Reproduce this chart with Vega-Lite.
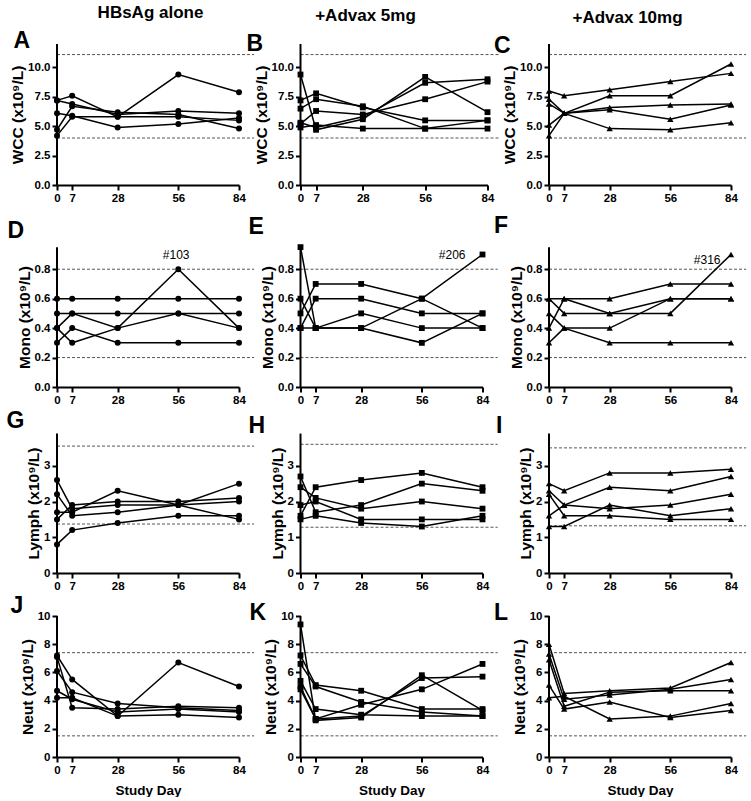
{
"$schema": "https://vega.github.io/schema/vega-lite/v6.json",
"padding": {"left": 6, "top": 3, "right": 0, "bottom": 0},
"config": {
 "font": "Liberation Sans",
 "view": {"stroke": null},
 "axis": {"grid": false, "labelFont": "Liberation Sans", "labelFontWeight": "bold", "labelFontSize": 11.5, "labelColor": "black", "titleFont": "Liberation Sans", "titleFontWeight": "bold", "titleColor": "black", "tickColor": "black", "tickWidth": 2, "tickSize": 5, "labelOverlap": false, "labelBound": false, "labelFlush": false},
 "axisY": {"domain": false, "titleFontSize": 15.5, "titlePadding": 2, "labelPadding": 2, "labelOverlap": false},
 "axisX": {"domain": true, "domainColor": "black", "domainWidth": 2, "labelPadding": 2, "titleFontSize": 13.5, "titlePadding": 8, "labelOverlap": false},
 "title": {"font": "Liberation Sans", "fontWeight": "bold", "fontSize": 17, "color": "black", "anchor": "middle", "frame": "group", "offset": 8}
},
"datasets": {
"ref": [
{"panel":"A","level":11.1},{"panel":"A","level":4.0},
{"panel":"B","level":11.1},{"panel":"B","level":4.0},
{"panel":"C","level":11.1},{"panel":"C","level":4.0},
{"panel":"D","level":0.8},{"panel":"D","level":0.2},
{"panel":"E","level":0.8},{"panel":"E","level":0.2},
{"panel":"F","level":0.8},{"panel":"F","level":0.2},
{"panel":"G","level":3.55},{"panel":"G","level":1.37},
{"panel":"H","level":3.6},{"panel":"H","level":1.28},
{"panel":"I","level":3.5},{"panel":"I","level":1.32},
{"panel":"J","level":7.4},{"panel":"J","level":1.5},
{"panel":"K","level":7.4},{"panel":"K","level":1.5},
{"panel":"L","level":7.4},{"panel":"L","level":1.5}
],
"blood": [
{"panel":"A","id":"101","day":0,"value":7.2},{"panel":"A","id":"101","day":7,"value":7.6},{"panel":"A","id":"101","day":28,"value":5.8},{"panel":"A","id":"101","day":56,"value":9.4},{"panel":"A","id":"101","day":84,"value":7.9},
{"panel":"A","id":"102","day":0,"value":7.2},{"panel":"A","id":"102","day":7,"value":6.9},{"panel":"A","id":"102","day":28,"value":6.0},{"panel":"A","id":"102","day":56,"value":6.3},{"panel":"A","id":"102","day":84,"value":6.1},
{"panel":"A","id":"103","day":0,"value":6.1},{"panel":"A","id":"103","day":7,"value":5.9},{"panel":"A","id":"103","day":28,"value":4.9},{"panel":"A","id":"103","day":56,"value":5.2},{"panel":"A","id":"103","day":84,"value":5.7},
{"panel":"A","id":"104","day":0,"value":4.7},{"panel":"A","id":"104","day":7,"value":6.7},{"panel":"A","id":"104","day":28,"value":6.2},{"panel":"A","id":"104","day":56,"value":6.0},{"panel":"A","id":"104","day":84,"value":4.8},
{"panel":"A","id":"105","day":0,"value":4.2},{"panel":"A","id":"105","day":7,"value":5.8},{"panel":"A","id":"105","day":28,"value":5.8},{"panel":"A","id":"105","day":56,"value":5.8},{"panel":"A","id":"105","day":84,"value":5.5},
{"panel":"B","id":"201","day":0,"value":9.4},{"panel":"B","id":"201","day":7,"value":4.7},{"panel":"B","id":"201","day":28,"value":5.6},{"panel":"B","id":"201","day":56,"value":9.2},{"panel":"B","id":"201","day":84,"value":6.2},
{"panel":"B","id":"202","day":0,"value":7.2},{"panel":"B","id":"202","day":7,"value":7.8},{"panel":"B","id":"202","day":28,"value":6.6},{"panel":"B","id":"202","day":56,"value":5.5},{"panel":"B","id":"202","day":84,"value":5.5},
{"panel":"B","id":"203","day":0,"value":6.5},{"panel":"B","id":"203","day":7,"value":7.3},{"panel":"B","id":"203","day":28,"value":6.7},{"panel":"B","id":"203","day":56,"value":4.8},{"panel":"B","id":"203","day":84,"value":5.5},
{"panel":"B","id":"204","day":0,"value":5.2},{"panel":"B","id":"204","day":7,"value":6.3},{"panel":"B","id":"204","day":28,"value":6.0},{"panel":"B","id":"204","day":56,"value":7.3},{"panel":"B","id":"204","day":84,"value":8.8},
{"panel":"B","id":"205","day":0,"value":4.9},{"panel":"B","id":"205","day":7,"value":5.1},{"panel":"B","id":"205","day":28,"value":4.8},{"panel":"B","id":"205","day":56,"value":4.8},{"panel":"B","id":"205","day":84,"value":4.8},
{"panel":"B","id":"206","day":0,"value":5.3},{"panel":"B","id":"206","day":7,"value":4.9},{"panel":"B","id":"206","day":28,"value":5.8},{"panel":"B","id":"206","day":56,"value":8.7},{"panel":"B","id":"206","day":84,"value":9.0},
{"panel":"C","id":"312","day":0,"value":8.0},{"panel":"C","id":"312","day":7,"value":7.6},{"panel":"C","id":"312","day":28,"value":8.1},{"panel":"C","id":"312","day":56,"value":8.8},{"panel":"C","id":"312","day":84,"value":9.5},
{"panel":"C","id":"313","day":0,"value":7.3},{"panel":"C","id":"313","day":7,"value":6.1},{"panel":"C","id":"313","day":28,"value":7.6},{"panel":"C","id":"313","day":56,"value":7.6},{"panel":"C","id":"313","day":84,"value":10.3},
{"panel":"C","id":"314","day":0,"value":6.9},{"panel":"C","id":"314","day":7,"value":6.1},{"panel":"C","id":"314","day":28,"value":6.6},{"panel":"C","id":"314","day":56,"value":6.8},{"panel":"C","id":"314","day":84,"value":6.9},
{"panel":"C","id":"315","day":0,"value":5.1},{"panel":"C","id":"315","day":7,"value":6.1},{"panel":"C","id":"315","day":28,"value":6.4},{"panel":"C","id":"315","day":56,"value":5.6},{"panel":"C","id":"315","day":84,"value":6.8},
{"panel":"C","id":"316","day":0,"value":4.2},{"panel":"C","id":"316","day":7,"value":6.1},{"panel":"C","id":"316","day":28,"value":4.8},{"panel":"C","id":"316","day":56,"value":4.7},{"panel":"C","id":"316","day":84,"value":5.3},
{"panel":"D","id":"101","day":0,"value":0.6},{"panel":"D","id":"101","day":7,"value":0.6},{"panel":"D","id":"101","day":28,"value":0.6},{"panel":"D","id":"101","day":56,"value":0.6},{"panel":"D","id":"101","day":84,"value":0.6},
{"panel":"D","id":"102","day":0,"value":0.5},{"panel":"D","id":"102","day":7,"value":0.5},{"panel":"D","id":"102","day":28,"value":0.5},{"panel":"D","id":"102","day":56,"value":0.5},{"panel":"D","id":"102","day":84,"value":0.5},
{"panel":"D","id":"103","day":0,"value":0.4},{"panel":"D","id":"103","day":7,"value":0.5},{"panel":"D","id":"103","day":28,"value":0.4},{"panel":"D","id":"103","day":56,"value":0.8},{"panel":"D","id":"103","day":84,"value":0.4},
{"panel":"D","id":"104","day":0,"value":0.3},{"panel":"D","id":"104","day":7,"value":0.4},{"panel":"D","id":"104","day":28,"value":0.3},{"panel":"D","id":"104","day":56,"value":0.3},{"panel":"D","id":"104","day":84,"value":0.3},
{"panel":"D","id":"105","day":0,"value":0.4},{"panel":"D","id":"105","day":7,"value":0.3},{"panel":"D","id":"105","day":28,"value":0.4},{"panel":"D","id":"105","day":56,"value":0.5},{"panel":"D","id":"105","day":84,"value":0.4},
{"panel":"E","id":"201","day":0,"value":0.6},{"panel":"E","id":"201","day":7,"value":0.4},{"panel":"E","id":"201","day":28,"value":0.4},{"panel":"E","id":"201","day":56,"value":0.3},{"panel":"E","id":"201","day":84,"value":0.5},
{"panel":"E","id":"202","day":0,"value":0.5},{"panel":"E","id":"202","day":7,"value":0.7},{"panel":"E","id":"202","day":28,"value":0.7},{"panel":"E","id":"202","day":56,"value":0.6},{"panel":"E","id":"202","day":84,"value":0.4},
{"panel":"E","id":"203","day":0,"value":0.4},{"panel":"E","id":"203","day":7,"value":0.6},{"panel":"E","id":"203","day":28,"value":0.6},{"panel":"E","id":"203","day":56,"value":0.5},{"panel":"E","id":"203","day":84,"value":0.5},
{"panel":"E","id":"204","day":0,"value":0.4},{"panel":"E","id":"204","day":7,"value":0.4},{"panel":"E","id":"204","day":28,"value":0.5},{"panel":"E","id":"204","day":56,"value":0.4},{"panel":"E","id":"204","day":84,"value":0.4},
{"panel":"E","id":"206","day":0,"value":0.95},{"panel":"E","id":"206","day":7,"value":0.4},{"panel":"E","id":"206","day":28,"value":0.4},{"panel":"E","id":"206","day":56,"value":0.6},{"panel":"E","id":"206","day":84,"value":0.9},
{"panel":"F","id":"312","day":0,"value":0.6},{"panel":"F","id":"312","day":7,"value":0.6},{"panel":"F","id":"312","day":28,"value":0.6},{"panel":"F","id":"312","day":56,"value":0.7},{"panel":"F","id":"312","day":84,"value":0.7},
{"panel":"F","id":"313","day":0,"value":0.5},{"panel":"F","id":"313","day":7,"value":0.4},{"panel":"F","id":"313","day":28,"value":0.3},{"panel":"F","id":"313","day":56,"value":0.3},{"panel":"F","id":"313","day":84,"value":0.3},
{"panel":"F","id":"314","day":0,"value":0.4},{"panel":"F","id":"314","day":7,"value":0.6},{"panel":"F","id":"314","day":28,"value":0.5},{"panel":"F","id":"314","day":56,"value":0.6},{"panel":"F","id":"314","day":84,"value":0.6},
{"panel":"F","id":"315","day":0,"value":0.3},{"panel":"F","id":"315","day":7,"value":0.4},{"panel":"F","id":"315","day":28,"value":0.4},{"panel":"F","id":"315","day":56,"value":0.6},{"panel":"F","id":"315","day":84,"value":0.6},
{"panel":"F","id":"316","day":0,"value":0.6},{"panel":"F","id":"316","day":7,"value":0.5},{"panel":"F","id":"316","day":28,"value":0.5},{"panel":"F","id":"316","day":56,"value":0.5},{"panel":"F","id":"316","day":84,"value":0.9},
{"panel":"G","id":"101","day":0,"value":2.6},{"panel":"G","id":"101","day":7,"value":1.8},{"panel":"G","id":"101","day":28,"value":1.9},{"panel":"G","id":"101","day":56,"value":1.9},{"panel":"G","id":"101","day":84,"value":2.0},
{"panel":"G","id":"102","day":0,"value":2.2},{"panel":"G","id":"102","day":7,"value":1.6},{"panel":"G","id":"102","day":28,"value":1.7},{"panel":"G","id":"102","day":56,"value":1.9},{"panel":"G","id":"102","day":84,"value":2.5},
{"panel":"G","id":"103","day":0,"value":1.7},{"panel":"G","id":"103","day":7,"value":1.7},{"panel":"G","id":"103","day":28,"value":2.3},{"panel":"G","id":"103","day":56,"value":1.9},{"panel":"G","id":"103","day":84,"value":1.5},
{"panel":"G","id":"104","day":0,"value":1.5},{"panel":"G","id":"104","day":7,"value":1.9},{"panel":"G","id":"104","day":28,"value":2.0},{"panel":"G","id":"104","day":56,"value":2.0},{"panel":"G","id":"104","day":84,"value":2.1},
{"panel":"G","id":"105","day":0,"value":0.8},{"panel":"G","id":"105","day":7,"value":1.2},{"panel":"G","id":"105","day":28,"value":1.4},{"panel":"G","id":"105","day":56,"value":1.6},{"panel":"G","id":"105","day":84,"value":1.6},
{"panel":"H","id":"201","day":0,"value":1.6},{"panel":"H","id":"201","day":7,"value":2.4},{"panel":"H","id":"201","day":28,"value":2.6},{"panel":"H","id":"201","day":56,"value":2.8},{"panel":"H","id":"201","day":84,"value":2.4},
{"panel":"H","id":"202","day":0,"value":2.7},{"panel":"H","id":"202","day":7,"value":1.7},{"panel":"H","id":"202","day":28,"value":1.9},{"panel":"H","id":"202","day":56,"value":2.5},{"panel":"H","id":"202","day":84,"value":2.3},
{"panel":"H","id":"203","day":0,"value":2.4},{"panel":"H","id":"203","day":7,"value":2.1},{"panel":"H","id":"203","day":28,"value":1.8},{"panel":"H","id":"203","day":56,"value":2.0},{"panel":"H","id":"203","day":84,"value":1.8},
{"panel":"H","id":"204","day":0,"value":1.9},{"panel":"H","id":"204","day":7,"value":2.0},{"panel":"H","id":"204","day":28,"value":1.5},{"panel":"H","id":"204","day":56,"value":1.5},{"panel":"H","id":"204","day":84,"value":1.5},
{"panel":"H","id":"205","day":0,"value":1.5},{"panel":"H","id":"205","day":7,"value":1.6},{"panel":"H","id":"205","day":28,"value":1.4},{"panel":"H","id":"205","day":56,"value":1.3},{"panel":"H","id":"205","day":84,"value":1.6},
{"panel":"I","id":"312","day":0,"value":2.5},{"panel":"I","id":"312","day":7,"value":2.3},{"panel":"I","id":"312","day":28,"value":2.8},{"panel":"I","id":"312","day":56,"value":2.8},{"panel":"I","id":"312","day":84,"value":2.9},
{"panel":"I","id":"313","day":0,"value":1.6},{"panel":"I","id":"313","day":7,"value":1.9},{"panel":"I","id":"313","day":28,"value":2.4},{"panel":"I","id":"313","day":56,"value":2.3},{"panel":"I","id":"313","day":84,"value":2.7},
{"panel":"I","id":"314","day":0,"value":2.3},{"panel":"I","id":"314","day":7,"value":1.9},{"panel":"I","id":"314","day":28,"value":1.8},{"panel":"I","id":"314","day":56,"value":1.9},{"panel":"I","id":"314","day":84,"value":2.2},
{"panel":"I","id":"315","day":0,"value":2.2},{"panel":"I","id":"315","day":7,"value":1.6},{"panel":"I","id":"315","day":28,"value":1.6},{"panel":"I","id":"315","day":56,"value":1.5},{"panel":"I","id":"315","day":84,"value":1.5},
{"panel":"I","id":"316","day":0,"value":1.3},{"panel":"I","id":"316","day":7,"value":1.3},{"panel":"I","id":"316","day":28,"value":1.9},{"panel":"I","id":"316","day":56,"value":1.6},{"panel":"I","id":"316","day":84,"value":1.8},
{"panel":"J","id":"101","day":0,"value":7.2},{"panel":"J","id":"101","day":7,"value":5.5},{"panel":"J","id":"101","day":28,"value":2.9},{"panel":"J","id":"101","day":56,"value":6.7},{"panel":"J","id":"101","day":84,"value":5.0},
{"panel":"J","id":"102","day":0,"value":7.1},{"panel":"J","id":"102","day":7,"value":3.5},{"panel":"J","id":"102","day":28,"value":3.4},{"panel":"J","id":"102","day":56,"value":3.6},{"panel":"J","id":"102","day":84,"value":3.5},
{"panel":"J","id":"103","day":0,"value":6.1},{"panel":"J","id":"103","day":7,"value":4.6},{"panel":"J","id":"103","day":28,"value":3.8},{"panel":"J","id":"103","day":56,"value":3.5},{"panel":"J","id":"103","day":84,"value":3.3},
{"panel":"J","id":"104","day":0,"value":4.7},{"panel":"J","id":"104","day":7,"value":4.1},{"panel":"J","id":"104","day":28,"value":3.2},{"panel":"J","id":"104","day":56,"value":3.4},{"panel":"J","id":"104","day":84,"value":3.2},
{"panel":"J","id":"105","day":0,"value":4.2},{"panel":"J","id":"105","day":7,"value":4.2},{"panel":"J","id":"105","day":28,"value":2.9},{"panel":"J","id":"105","day":56,"value":3.0},{"panel":"J","id":"105","day":84,"value":2.8},
{"panel":"K","id":"201","day":0,"value":9.4},{"panel":"K","id":"201","day":7,"value":2.6},{"panel":"K","id":"201","day":28,"value":2.8},{"panel":"K","id":"201","day":56,"value":5.8},{"panel":"K","id":"201","day":84,"value":3.3},
{"panel":"K","id":"202","day":0,"value":7.2},{"panel":"K","id":"202","day":7,"value":5.1},{"panel":"K","id":"202","day":28,"value":4.7},{"panel":"K","id":"202","day":56,"value":3.4},{"panel":"K","id":"202","day":84,"value":3.4},
{"panel":"K","id":"203","day":0,"value":6.6},{"panel":"K","id":"203","day":7,"value":5.0},{"panel":"K","id":"203","day":28,"value":3.9},{"panel":"K","id":"203","day":56,"value":3.2},{"panel":"K","id":"203","day":84,"value":2.9},
{"panel":"K","id":"204","day":0,"value":5.4},{"panel":"K","id":"204","day":7,"value":3.4},{"panel":"K","id":"204","day":28,"value":3.0},{"panel":"K","id":"204","day":56,"value":2.9},{"panel":"K","id":"204","day":84,"value":2.9},
{"panel":"K","id":"205","day":0,"value":5.0},{"panel":"K","id":"205","day":7,"value":2.7},{"panel":"K","id":"205","day":28,"value":3.7},{"panel":"K","id":"205","day":56,"value":4.8},{"panel":"K","id":"205","day":84,"value":6.6},
{"panel":"K","id":"206","day":0,"value":4.8},{"panel":"K","id":"206","day":7,"value":2.7},{"panel":"K","id":"206","day":28,"value":2.9},{"panel":"K","id":"206","day":56,"value":5.6},{"panel":"K","id":"206","day":84,"value":5.7},
{"panel":"L","id":"312","day":0,"value":8.0},{"panel":"L","id":"312","day":7,"value":4.5},{"panel":"L","id":"312","day":28,"value":4.7},{"panel":"L","id":"312","day":56,"value":4.9},{"panel":"L","id":"312","day":84,"value":6.7},
{"panel":"L","id":"313","day":0,"value":7.3},{"panel":"L","id":"313","day":7,"value":4.1},{"panel":"L","id":"313","day":28,"value":4.4},{"panel":"L","id":"313","day":56,"value":4.8},{"panel":"L","id":"313","day":84,"value":5.5},
{"panel":"L","id":"314","day":0,"value":6.9},{"panel":"L","id":"314","day":7,"value":3.6},{"panel":"L","id":"314","day":28,"value":4.6},{"panel":"L","id":"314","day":56,"value":4.7},{"panel":"L","id":"314","day":84,"value":4.7},
{"panel":"L","id":"315","day":0,"value":5.1},{"panel":"L","id":"315","day":7,"value":3.4},{"panel":"L","id":"315","day":28,"value":3.9},{"panel":"L","id":"315","day":56,"value":2.8},{"panel":"L","id":"315","day":84,"value":3.3},
{"panel":"L","id":"316","day":0,"value":4.2},{"panel":"L","id":"316","day":7,"value":4.3},{"panel":"L","id":"316","day":28,"value":2.7},{"panel":"L","id":"316","day":56,"value":2.9},{"panel":"L","id":"316","day":84,"value":3.8}
]
},
"columns": 3,
"spacing": {"row": 43, "column": 61.5},
"bounds": "flush",
"concat": [
{"width": 182, "height": 141, "title": {"text": "HBsAg alone", "dx": 2.5},
 "layer": [
  {"data": {"name": "ref"}, "transform": [{"filter": "datum.panel === 'A'"}], "mark": {"type": "rule", "color": "#555555", "strokeWidth": 1, "strokeDash": [3, 2]}, "encoding": {"x": {"datum": 0}, "x2": {"datum": 91}, "y": {"field": "level", "type": "quantitative", "title": "WCC (x10⁹/L)"}}},
  {"data": {"values": [{}]}, "mark": {"type": "rule", "color": "black", "strokeWidth": 2}, "encoding": {"x": {"datum": 0}, "y": {"datum": 0}, "y2": {"datum": 12}}},
  {"data": {"name": "blood"}, "transform": [{"filter": "datum.panel === 'A'"}], "mark": {"type": "line", "color": "black", "strokeWidth": 1.5, "point": {"filled": true, "shape": "circle", "size": 36, "color": "black"}}, "encoding": {"x": {"field": "day", "type": "quantitative", "scale": {"domain": [0, 84], "nice": false}, "axis": {"values": [0, 7, 28, 56, 84], "tickCount": 12, "title": null}}, "y": {"field": "value", "type": "quantitative", "scale": {"domain": [0, 12], "nice": false}, "axis": {"title": "WCC (x10⁹/L)", "values": [0, 2.5, 5, 7.5, 10], "tickCount": 12, "format": ".1f"}}, "detail": {"field": "id"}}},
  {"data": {"values": [{}]}, "mark": {"type": "text", "fontSize": 23, "fontWeight": "bold", "align": "left", "baseline": "alphabetic", "color": "black"}, "encoding": {"x": {"datum": -20.1}, "y": {"datum": 11.66}, "text": {"value": "A"}}}
 ]},
{"width": 187, "height": 141, "title": {"text": "+Advax 5mg", "dx": -28.5},
 "layer": [
  {"data": {"name": "ref"}, "transform": [{"filter": "datum.panel === 'B'"}], "mark": {"type": "rule", "color": "#555555", "strokeWidth": 1, "strokeDash": [3, 2]}, "encoding": {"x": {"datum": 0}, "x2": {"datum": 89}, "y": {"field": "level", "type": "quantitative", "title": "WCC (x10⁹/L)"}}},
  {"data": {"values": [{}]}, "mark": {"type": "rule", "color": "black", "strokeWidth": 2}, "encoding": {"x": {"datum": 0}, "y": {"datum": 0}, "y2": {"datum": 12}}},
  {"data": {"name": "blood"}, "transform": [{"filter": "datum.panel === 'B'"}], "mark": {"type": "line", "color": "black", "strokeWidth": 1.5, "point": {"filled": true, "shape": "square", "size": 34, "color": "black"}}, "encoding": {"x": {"field": "day", "type": "quantitative", "scale": {"domain": [0, 84], "nice": false}, "axis": {"values": [0, 7, 28, 56, 84], "tickCount": 12, "title": null}}, "y": {"field": "value", "type": "quantitative", "scale": {"domain": [0, 12], "nice": false}, "axis": {"title": "WCC (x10⁹/L)", "values": [0, 2.5, 5, 7.5, 10], "tickCount": 12, "format": ".1f"}}, "detail": {"field": "id"}}},
  {"data": {"values": [{}]}, "mark": {"type": "text", "fontSize": 23, "fontWeight": "bold", "align": "left", "baseline": "alphabetic", "color": "black"}, "encoding": {"x": {"datum": -24.3}, "y": {"datum": 11.4}, "text": {"value": "B"}}}
 ]},
{"width": 182, "height": 141, "title": {"text": "+Advax 10mg", "dx": -12.5},
 "layer": [
  {"data": {"name": "ref"}, "transform": [{"filter": "datum.panel === 'C'"}], "mark": {"type": "rule", "color": "#555555", "strokeWidth": 1, "strokeDash": [3, 2]}, "encoding": {"x": {"datum": 0}, "x2": {"datum": 91}, "y": {"field": "level", "type": "quantitative", "title": "WCC (x10⁹/L)"}}},
  {"data": {"values": [{}]}, "mark": {"type": "rule", "color": "black", "strokeWidth": 2}, "encoding": {"x": {"datum": 0}, "y": {"datum": 0}, "y2": {"datum": 12}}},
  {"data": {"name": "blood"}, "transform": [{"filter": "datum.panel === 'C'"}], "mark": {"type": "line", "color": "black", "strokeWidth": 1.5, "point": {"filled": true, "shape": "triangle-up", "size": 40, "color": "black"}}, "encoding": {"x": {"field": "day", "type": "quantitative", "scale": {"domain": [0, 84], "nice": false}, "axis": {"values": [0, 7, 28, 56, 84], "tickCount": 12, "title": null}}, "y": {"field": "value", "type": "quantitative", "scale": {"domain": [0, 12], "nice": false}, "axis": {"title": "WCC (x10⁹/L)", "values": [0, 2.5, 5, 7.5, 10], "tickCount": 12, "format": ".1f"}}, "detail": {"field": "id"}}},
  {"data": {"values": [{}]}, "mark": {"type": "text", "fontSize": 23, "fontWeight": "bold", "align": "left", "baseline": "alphabetic", "color": "black"}, "encoding": {"x": {"datum": -25.4}, "y": {"datum": 11.23}, "text": {"value": "C"}}}
 ]},
{"width": 182, "height": 159,
 "layer": [
  {"data": {"name": "ref"}, "transform": [{"filter": "datum.panel === 'D'"}], "mark": {"type": "rule", "color": "#555555", "strokeWidth": 1, "strokeDash": [3, 2]}, "encoding": {"x": {"datum": 0}, "x2": {"datum": 91}, "y": {"field": "level", "type": "quantitative", "title": "Mono (x10⁹/L)"}}},
  {"data": {"values": [{}]}, "mark": {"type": "rule", "color": "black", "strokeWidth": 2}, "encoding": {"x": {"datum": 0}, "y": {"datum": 0}, "y2": {"datum": 0.95}}},
  {"data": {"name": "blood"}, "transform": [{"filter": "datum.panel === 'D'"}], "mark": {"type": "line", "color": "black", "strokeWidth": 1.5, "point": {"filled": true, "shape": "circle", "size": 36, "color": "black"}}, "encoding": {"x": {"field": "day", "type": "quantitative", "scale": {"domain": [0, 84], "nice": false}, "axis": {"values": [0, 7, 28, 56, 84], "tickCount": 12, "title": null}}, "y": {"field": "value", "type": "quantitative", "scale": {"domain": [0, 1.08], "nice": false}, "axis": {"title": "Mono (x10⁹/L)", "values": [0, 0.2, 0.4, 0.6, 0.8], "tickCount": 12, "format": ".1f", "titleY": 89}}, "detail": {"field": "id"}}},
  {"data": {"values": [{}]}, "mark": {"type": "text", "fontSize": 23, "fontWeight": "bold", "align": "left", "baseline": "alphabetic", "color": "black"}, "encoding": {"x": {"datum": -22.8}, "y": {"datum": 1.012}, "text": {"value": "D"}}},
  {"data": {"values": [{}]}, "mark": {"type": "text", "fontSize": 12, "align": "center", "baseline": "alphabetic", "color": "black"}, "encoding": {"x": {"datum": 55}, "y": {"datum": 0.867}, "text": {"value": "#103"}}}
 ]},
{"width": 182, "height": 159,
 "layer": [
  {"data": {"name": "ref"}, "transform": [{"filter": "datum.panel === 'E'"}], "mark": {"type": "rule", "color": "#555555", "strokeWidth": 1, "strokeDash": [3, 2]}, "encoding": {"x": {"datum": 0}, "x2": {"datum": 91}, "y": {"field": "level", "type": "quantitative", "title": "Mono (x10⁹/L)"}}},
  {"data": {"values": [{}]}, "mark": {"type": "rule", "color": "black", "strokeWidth": 2}, "encoding": {"x": {"datum": 0}, "y": {"datum": 0}, "y2": {"datum": 0.95}}},
  {"data": {"name": "blood"}, "transform": [{"filter": "datum.panel === 'E'"}], "mark": {"type": "line", "color": "black", "strokeWidth": 1.5, "point": {"filled": true, "shape": "square", "size": 34, "color": "black"}}, "encoding": {"x": {"field": "day", "type": "quantitative", "scale": {"domain": [0, 84], "nice": false}, "axis": {"values": [0, 7, 28, 56, 84], "tickCount": 12, "title": null}}, "y": {"field": "value", "type": "quantitative", "scale": {"domain": [0, 1.08], "nice": false}, "axis": {"title": "Mono (x10⁹/L)", "values": [0, 0.2, 0.4, 0.6, 0.8], "tickCount": 12, "format": ".1f", "titleY": 89}}, "detail": {"field": "id"}}},
  {"data": {"values": [{}]}, "mark": {"type": "text", "fontSize": 23, "fontWeight": "bold", "align": "left", "baseline": "alphabetic", "color": "black"}, "encoding": {"x": {"datum": -24}, "y": {"datum": 1.04}, "text": {"value": "E"}}},
  {"data": {"values": [{}]}, "mark": {"type": "text", "fontSize": 12, "align": "center", "baseline": "alphabetic", "color": "black"}, "encoding": {"x": {"datum": 70}, "y": {"datum": 0.867}, "text": {"value": "#206"}}}
 ]},
{"width": 182, "height": 159,
 "layer": [
  {"data": {"name": "ref"}, "transform": [{"filter": "datum.panel === 'F'"}], "mark": {"type": "rule", "color": "#555555", "strokeWidth": 1, "strokeDash": [3, 2]}, "encoding": {"x": {"datum": 0}, "x2": {"datum": 91}, "y": {"field": "level", "type": "quantitative", "title": "Mono (x10⁹/L)"}}},
  {"data": {"values": [{}]}, "mark": {"type": "rule", "color": "black", "strokeWidth": 2}, "encoding": {"x": {"datum": 0}, "y": {"datum": 0}, "y2": {"datum": 0.95}}},
  {"data": {"name": "blood"}, "transform": [{"filter": "datum.panel === 'F'"}], "mark": {"type": "line", "color": "black", "strokeWidth": 1.5, "point": {"filled": true, "shape": "triangle-up", "size": 40, "color": "black"}}, "encoding": {"x": {"field": "day", "type": "quantitative", "scale": {"domain": [0, 84], "nice": false}, "axis": {"values": [0, 7, 28, 56, 84], "tickCount": 12, "title": null}}, "y": {"field": "value", "type": "quantitative", "scale": {"domain": [0, 1.08], "nice": false}, "axis": {"title": "Mono (x10⁹/L)", "values": [0, 0.2, 0.4, 0.6, 0.8], "tickCount": 12, "format": ".1f", "titleY": 89}}, "detail": {"field": "id"}}},
  {"data": {"values": [{}]}, "mark": {"type": "text", "fontSize": 23, "fontWeight": "bold", "align": "left", "baseline": "alphabetic", "color": "black"}, "encoding": {"x": {"datum": -25.4}, "y": {"datum": 1.046}, "text": {"value": "F"}}},
  {"data": {"values": [{}]}, "mark": {"type": "text", "fontSize": 12, "align": "center", "baseline": "alphabetic", "color": "black"}, "encoding": {"x": {"datum": 73}, "y": {"datum": 0.833}, "text": {"value": "#316"}}}
 ]},
{"width": 182, "height": 143,
 "layer": [
  {"data": {"name": "ref"}, "transform": [{"filter": "datum.panel === 'G'"}], "mark": {"type": "rule", "color": "#555555", "strokeWidth": 1, "strokeDash": [3, 2]}, "encoding": {"x": {"datum": 0}, "x2": {"datum": 91}, "y": {"field": "level", "type": "quantitative", "title": "Lymph (x10⁹/L)"}}},
  {"data": {"values": [{}]}, "mark": {"type": "rule", "color": "black", "strokeWidth": 2}, "encoding": {"x": {"datum": 0}, "y": {"datum": 0}, "y2": {"datum": 3.9}}},
  {"data": {"name": "blood"}, "transform": [{"filter": "datum.panel === 'G'"}], "mark": {"type": "line", "color": "black", "strokeWidth": 1.5, "point": {"filled": true, "shape": "circle", "size": 36, "color": "black"}}, "encoding": {"x": {"field": "day", "type": "quantitative", "scale": {"domain": [0, 84], "nice": false}, "axis": {"values": [0, 7, 28, 56, 84], "tickCount": 12, "title": null}}, "y": {"field": "value", "type": "quantitative", "scale": {"domain": [0, 4], "nice": false}, "axis": {"title": "Lymph (x10⁹/L)", "values": [0, 1, 2, 3], "tickCount": 12, "format": "d", "titleY": 73}}, "detail": {"field": "id"}}},
  {"data": {"values": [{}]}, "mark": {"type": "text", "fontSize": 23, "fontWeight": "bold", "align": "left", "baseline": "alphabetic", "color": "black"}, "encoding": {"x": {"datum": -23.3}, "y": {"datum": 4.06}, "text": {"value": "G"}}}
 ]},
{"width": 182, "height": 143,
 "layer": [
  {"data": {"name": "ref"}, "transform": [{"filter": "datum.panel === 'H'"}], "mark": {"type": "rule", "color": "#555555", "strokeWidth": 1, "strokeDash": [3, 2]}, "encoding": {"x": {"datum": 0}, "x2": {"datum": 91}, "y": {"field": "level", "type": "quantitative", "title": "Lymph (x10⁹/L)"}}},
  {"data": {"values": [{}]}, "mark": {"type": "rule", "color": "black", "strokeWidth": 2}, "encoding": {"x": {"datum": 0}, "y": {"datum": 0}, "y2": {"datum": 3.9}}},
  {"data": {"name": "blood"}, "transform": [{"filter": "datum.panel === 'H'"}], "mark": {"type": "line", "color": "black", "strokeWidth": 1.5, "point": {"filled": true, "shape": "square", "size": 34, "color": "black"}}, "encoding": {"x": {"field": "day", "type": "quantitative", "scale": {"domain": [0, 84], "nice": false}, "axis": {"values": [0, 7, 28, 56, 84], "tickCount": 12, "title": null}}, "y": {"field": "value", "type": "quantitative", "scale": {"domain": [0, 4], "nice": false}, "axis": {"title": "Lymph (x10⁹/L)", "values": [0, 1, 2, 3], "tickCount": 12, "format": "d", "titleY": 73}}, "detail": {"field": "id"}}},
  {"data": {"values": [{}]}, "mark": {"type": "text", "fontSize": 23, "fontWeight": "bold", "align": "left", "baseline": "alphabetic", "color": "black"}, "encoding": {"x": {"datum": -24}, "y": {"datum": 3.92}, "text": {"value": "H"}}}
 ]},
{"width": 182, "height": 143,
 "layer": [
  {"data": {"name": "ref"}, "transform": [{"filter": "datum.panel === 'I'"}], "mark": {"type": "rule", "color": "#555555", "strokeWidth": 1, "strokeDash": [3, 2]}, "encoding": {"x": {"datum": 0}, "x2": {"datum": 91}, "y": {"field": "level", "type": "quantitative", "title": "Lymph (x10⁹/L)"}}},
  {"data": {"values": [{}]}, "mark": {"type": "rule", "color": "black", "strokeWidth": 2}, "encoding": {"x": {"datum": 0}, "y": {"datum": 0}, "y2": {"datum": 3.9}}},
  {"data": {"name": "blood"}, "transform": [{"filter": "datum.panel === 'I'"}], "mark": {"type": "line", "color": "black", "strokeWidth": 1.5, "point": {"filled": true, "shape": "triangle-up", "size": 40, "color": "black"}}, "encoding": {"x": {"field": "day", "type": "quantitative", "scale": {"domain": [0, 84], "nice": false}, "axis": {"values": [0, 7, 28, 56, 84], "tickCount": 12, "title": null}}, "y": {"field": "value", "type": "quantitative", "scale": {"domain": [0, 4], "nice": false}, "axis": {"title": "Lymph (x10⁹/L)", "values": [0, 1, 2, 3], "tickCount": 12, "format": "d", "titleY": 73}}, "detail": {"field": "id"}}},
  {"data": {"values": [{}]}, "mark": {"type": "text", "fontSize": 23, "fontWeight": "bold", "align": "left", "baseline": "alphabetic", "color": "black"}, "encoding": {"x": {"datum": -24.5}, "y": {"datum": 3.92}, "text": {"value": "I"}}}
 ]},
{"width": 182, "height": 141,
 "layer": [
  {"data": {"name": "ref"}, "transform": [{"filter": "datum.panel === 'J'"}], "mark": {"type": "rule", "color": "#555555", "strokeWidth": 1, "strokeDash": [3, 2]}, "encoding": {"x": {"datum": 0}, "x2": {"datum": 91}, "y": {"field": "level", "type": "quantitative", "title": "Neut (x10⁹/L)"}}},
  {"data": {"values": [{}]}, "mark": {"type": "rule", "color": "black", "strokeWidth": 2}, "encoding": {"x": {"datum": 0}, "y": {"datum": 0}, "y2": {"datum": 10}}},
  {"data": {"name": "blood"}, "transform": [{"filter": "datum.panel === 'J'"}], "mark": {"type": "line", "color": "black", "strokeWidth": 1.5, "point": {"filled": true, "shape": "circle", "size": 36, "color": "black"}}, "encoding": {"x": {"field": "day", "type": "quantitative", "scale": {"domain": [0, 84], "nice": false}, "axis": {"values": [0, 7, 28, 56, 84], "tickCount": 12, "title": "Study Day"}}, "y": {"field": "value", "type": "quantitative", "scale": {"domain": [0, 10], "nice": false}, "axis": {"title": "Neut (x10⁹/L)", "values": [0, 2, 4, 6, 8, 10], "tickCount": 12, "format": "d"}}, "detail": {"field": "id"}}},
  {"data": {"values": [{}]}, "mark": {"type": "text", "fontSize": 23, "fontWeight": "bold", "align": "left", "baseline": "alphabetic", "color": "black"}, "encoding": {"x": {"datum": -21.5}, "y": {"datum": 10.2}, "text": {"value": "J"}}}
 ]},
{"width": 182, "height": 141,
 "layer": [
  {"data": {"name": "ref"}, "transform": [{"filter": "datum.panel === 'K'"}], "mark": {"type": "rule", "color": "#555555", "strokeWidth": 1, "strokeDash": [3, 2]}, "encoding": {"x": {"datum": 0}, "x2": {"datum": 91}, "y": {"field": "level", "type": "quantitative", "title": "Neut (x10⁹/L)"}}},
  {"data": {"values": [{}]}, "mark": {"type": "rule", "color": "black", "strokeWidth": 2}, "encoding": {"x": {"datum": 0}, "y": {"datum": 0}, "y2": {"datum": 10}}},
  {"data": {"name": "blood"}, "transform": [{"filter": "datum.panel === 'K'"}], "mark": {"type": "line", "color": "black", "strokeWidth": 1.5, "point": {"filled": true, "shape": "square", "size": 34, "color": "black"}}, "encoding": {"x": {"field": "day", "type": "quantitative", "scale": {"domain": [0, 84], "nice": false}, "axis": {"values": [0, 7, 28, 56, 84], "tickCount": 12, "title": "Study Day"}}, "y": {"field": "value", "type": "quantitative", "scale": {"domain": [0, 10], "nice": false}, "axis": {"title": "Neut (x10⁹/L)", "values": [0, 2, 4, 6, 8, 10], "tickCount": 12, "format": "d"}}, "detail": {"field": "id"}}},
  {"data": {"values": [{}]}, "mark": {"type": "text", "fontSize": 23, "fontWeight": "bold", "align": "left", "baseline": "alphabetic", "color": "black"}, "encoding": {"x": {"datum": -23.5}, "y": {"datum": 9.72}, "text": {"value": "K"}}}
 ]},
{"width": 182, "height": 141,
 "layer": [
  {"data": {"name": "ref"}, "transform": [{"filter": "datum.panel === 'L'"}], "mark": {"type": "rule", "color": "#555555", "strokeWidth": 1, "strokeDash": [3, 2]}, "encoding": {"x": {"datum": 0}, "x2": {"datum": 91}, "y": {"field": "level", "type": "quantitative", "title": "Neut (x10⁹/L)"}}},
  {"data": {"values": [{}]}, "mark": {"type": "rule", "color": "black", "strokeWidth": 2}, "encoding": {"x": {"datum": 0}, "y": {"datum": 0}, "y2": {"datum": 10}}},
  {"data": {"name": "blood"}, "transform": [{"filter": "datum.panel === 'L'"}], "mark": {"type": "line", "color": "black", "strokeWidth": 1.5, "point": {"filled": true, "shape": "triangle-up", "size": 40, "color": "black"}}, "encoding": {"x": {"field": "day", "type": "quantitative", "scale": {"domain": [0, 84], "nice": false}, "axis": {"values": [0, 7, 28, 56, 84], "tickCount": 12, "title": "Study Day"}}, "y": {"field": "value", "type": "quantitative", "scale": {"domain": [0, 10], "nice": false}, "axis": {"title": "Neut (x10⁹/L)", "values": [0, 2, 4, 6, 8, 10], "tickCount": 12, "format": "d"}}, "detail": {"field": "id"}}},
  {"data": {"values": [{}]}, "mark": {"type": "text", "fontSize": 23, "fontWeight": "bold", "align": "left", "baseline": "alphabetic", "color": "black"}, "encoding": {"x": {"datum": -25.4}, "y": {"datum": 9.72}, "text": {"value": "L"}}}
 ]}
]
}
